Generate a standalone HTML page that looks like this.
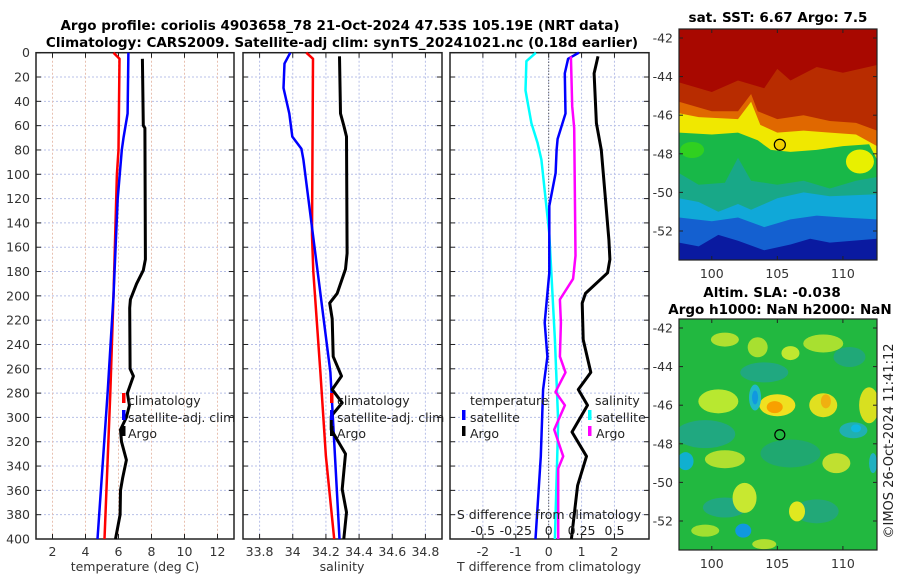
<!DOCTYPE html>
<html><head><meta charset="utf-8"><style>
body{margin:0;background:#fff;}
svg{display:block;font-family:"DejaVu Sans","Liberation Sans",sans-serif;}
</style></head><body>
<svg id="fig" width="900" height="580" viewBox="0 0 900 580"></svg>
<script>
// ---- data ----
const depthTicks=[0,20,40,60,80,100,120,140,160,180,200,220,240,260,280,300,320,340,360,380,400];
const tempTicks=[2,4,6,8,10,12];
const salTicks=[33.8,34,34.2,34.4,34.6,34.8];
const salTickLabels=["33.8","34","34.2","34.4","34.6","34.8"];
const tdiffTicks=[-2,-1,0,1,2];
const sdiffTicks=[-0.5,-0.25,0,0.25,0.5];
const sdiffTickLabels=["-0.5","-0.25","0","0.25","0.5"];
const latTicks=[-42,-44,-46,-48,-50,-52];
const lonTicks=[100,105,110];

const tClimDepth=[0,5,80,100,200,280,400];
const tClimVal=[5.7,6.06,6.0,5.9,5.7,5.5,5.15];
const tSatDepth=[0,50,70,80,120,200,280,400];
const tSatVal=[6.6,6.55,6.3,6.2,5.95,5.7,5.34,4.73];
const tArgoDepth=[5,60,62,170,179,190,203,210,260,266,280,290,300,310,320,335,350,360,380,400];
const tArgoVal=[7.45,7.5,7.6,7.63,7.5,7.1,6.72,6.68,6.7,6.9,6.54,6.66,6.48,6.12,6.18,6.48,6.25,6.12,6.1,5.82];

const sClimDepth=[0,5,150,180,263,332,400];
const sClimVal=[34.082,34.122,34.116,34.124,34.167,34.2,34.25];
const sSatDepth=[0,9,29,50,69,79,88,150,263,400];
const sSatVal=[33.985,33.95,33.944,33.979,33.997,34.052,34.064,34.122,34.227,34.282];
const sArgoDepth=[3,50,60,69,165,178,198,206,219,250,266,277,288,299,310,330,359,378,400];
const sArgoVal=[34.282,34.288,34.308,34.324,34.328,34.318,34.268,34.223,34.238,34.244,34.294,34.238,34.298,34.232,34.232,34.318,34.298,34.324,34.308];

const dsSatDepth=[0,7,31,58,74,88,148,236,304,400];
const dsSatVal=[-0.097,-0.169,-0.176,-0.131,-0.085,-0.055,0.004,0.047,0.072,0.047];
const dtSatDepth=[0,5,17,50,71,80,99,126,181,222,250,277,332,400];
const dtSatVal=[0.92,0.59,0.49,0.51,0.27,0.24,0.21,0.02,0.02,-0.12,-0.04,-0.17,-0.24,-0.4];
const dsArgoDepth=[3,44,62,167,186,203,222,250,263,279,290,310,332,342,400];
const dsArgoVal=[0.169,0.179,0.194,0.204,0.186,0.085,0.093,0.085,0.128,0.052,0.123,0.042,0.11,0.072,0.072];
const dtArgoDepth=[3,17,58,80,154,170,181,198,206,236,263,277,290,312,332,356,400];
const dtArgoVal=[1.5,1.38,1.45,1.6,1.83,1.86,1.79,1.12,1.02,1.05,1.28,0.9,1.18,0.71,1.15,0.88,0.69];

const argoLon=105.19, argoLat=-47.53;

// ---- helpers ----
const NS="http://www.w3.org/2000/svg";
const svg=document.getElementById('fig');
function el(tag,attrs,parent,text){const e=document.createElementNS(NS,tag);for(const k in attrs)e.setAttribute(k,attrs[k]);if(text!==undefined)e.textContent=text;(parent||svg).appendChild(e);return e;}
const PT=52.7, PB=539;
const yD=d=>PT+(d/400)*(PB-PT);
function lin(d0,d1,r0,r1){return v=>r0+(v-d0)/(d1-d0)*(r1-r0);}
const panels=[
 {name:'temperature-panel',x0:36,x1:234,dmin:1,dmax:13},
 {name:'salinity-panel',x0:243,x1:442,dmin:33.7,dmax:34.9},
 {name:'difference-panel',x0:450,x1:649,dmin:-3,dmax:3.05}
];
panels.forEach(p=>p.sx=lin(p.dmin,p.dmax,p.x0,p.x1));
const sdx=v=>panels[2].sx(v*4);

function frame(p,xticks,xlabels,gridColor){
  const g=el('g',{});
  
  
  depthTicks.forEach(d=>{const y=yD(d);
    if(d>0&&d<400)el('line',{x1:p.x0,x2:p.x1,y1:y,y2:y,stroke:'#b8c0e8','stroke-width':1,'stroke-dasharray':'2,2'},g);
    el('line',{x1:p.x0,x2:p.x0+5,y1:y,y2:y,stroke:'#222'},g);
    el('line',{x1:p.x1-5,x2:p.x1,y1:y,y2:y,stroke:'#222'},g);});
  xticks.forEach((v,i)=>{const x=p.sx(v);
    el('line',{x1:x,x2:x,y1:PT,y2:PB,stroke:gridColor||'#b8c0e8','stroke-width':1,'stroke-dasharray':'2,2'},g);
    el('line',{x1:x,x2:x,y1:PB-5,y2:PB,stroke:'#222'},g);
    el('line',{x1:x,x2:x,y1:PT,y2:PT+5,stroke:'#222'},g);
    if(xlabels){const t=el('text',{x:x,y:556,'font-size':12.5,'text-anchor':'middle',fill:'#333'},g,xlabels[i]);
      }
  });
  el('rect',{x:p.x0,y:PT,width:p.x1-p.x0,height:PB-PT,fill:'none',stroke:'#222','stroke-width':1.5},g);
  return g;
}
function line(xs,ds,vals,sx,color,w,name){
  const pts=vals.map((v,i)=>sx(v).toFixed(1)+','+yD(ds[i]).toFixed(1)).join(' ');
  const e=el('polyline',{points:pts,fill:'none',stroke:color,'stroke-width':w,'stroke-linejoin':'round'});
  
  
}
function txt(x,y,s,attrs,name){const a=Object.assign({x:x,y:y,'font-size':12.5,fill:'#222'},attrs||{});const t=el('text',a,svg,s);
  
  return t;}

// titles
txt(340,30,'Argo profile: coriolis 4903658_78 21-Oct-2024 47.53S 105.19E (NRT data)',{'font-size':13.5,'font-weight':'bold','text-anchor':'middle',fill:'#000'},'main-title-line1');
txt(342,47,'Climatology: CARS2009. Satellite-adj clim: synTS_20241021.nc (0.18d earlier)',{'font-size':13.5,'font-weight':'bold','text-anchor':'middle',fill:'#000'},'main-title-line2');

// panel 1
frame(panels[0],tempTicks,tempTicks.map(String),'#e8c0b0');
depthTicks.forEach(d=>{txt(30,yD(d)+4.5,String(d),{'text-anchor':'end',fill:'#333'},'y-tick-label');});
line(null,tClimDepth,tClimVal,panels[0].sx,'#ff0000',2.5,'temp-climatology-line');
line(null,tSatDepth,tSatVal,panels[0].sx,'#0000ff',2.5,'temp-satellite-line');
line(null,tArgoDepth,tArgoVal,panels[0].sx,'#000',3,'temp-argo-line');
txt(135,571,'temperature (deg C)',{'text-anchor':'middle',fill:'#333'},'x-axis-title-temperature');

// panel 2
frame(panels[1],salTicks,salTickLabels);
line(null,sClimDepth,sClimVal,panels[1].sx,'#ff0000',2.5,'sal-climatology-line');
line(null,sSatDepth,sSatVal,panels[1].sx,'#0000ff',2.5,'sal-satellite-line');
line(null,sArgoDepth,sArgoVal,panels[1].sx,'#000',3,'sal-argo-line');
txt(342,571,'salinity',{'text-anchor':'middle',fill:'#333'},'x-axis-title-salinity');

// legends panel 1/2
[[122,128],[330,337]].forEach(([mx,tx],k)=>{
  [['#ff0000','climatology',405],['#0000ff','satellite-adj. clim',422],['#000','Argo',438]].forEach(([c,s,y])=>{
    const m=el('rect',{x:mx,y:y-12,width:3.5,height:10,fill:c});
    
    txt(tx,y,s,{},'legend-entry');
  });
});

// panel 3
frame(panels[2],tdiffTicks,tdiffTicks.map(String));
el('line',{x1:panels[2].sx(0),x2:panels[2].sx(0),y1:PT,y2:PB,stroke:'#333','stroke-width':1,'stroke-dasharray':'1,2'});
line(null,dsSatDepth,dsSatVal,sdx,'#00ffff',2.5,'sdiff-satellite-line');
line(null,dtSatDepth,dtSatVal,panels[2].sx,'#0000ff',2.5,'tdiff-satellite-line');
line(null,dsArgoDepth,dsArgoVal,sdx,'#ff00ff',2.5,'sdiff-argo-line');
line(null,dtArgoDepth,dtArgoVal,panels[2].sx,'#000',3,'tdiff-argo-line');
txt(470,405,'temperature',{},'legend-title-temperature');
txt(595,405,'salinity',{},'legend-title-salinity');
[[462,'#0000ff','satellite',422],[462,'#000','Argo',438],[588,'#00ffff','satellite',422],[588,'#ff00ff','Argo',438]].forEach(([x,c,s,y])=>{
  const m=el('rect',{x:x,y:y-12,width:3.5,height:10,fill:c});
  
  txt(x+8,y,s,{},'legend-entry');
});
txt(549,519,'S difference from climatology',{'text-anchor':'middle'},'s-diff-axis-title');
sdiffTicks.forEach((v,i)=>txt(sdx(v),535,sdiffTickLabels[i],{'text-anchor':'middle'},'s-diff-tick-label'));
txt(549,571,'T difference from climatology',{'text-anchor':'middle',fill:'#333'},'x-axis-title-tdiff');

// ---- maps ----
function mapFrame(x0,x1,y0,y1,latY,name){
  const lx=lin(97.5,112.6,x0,x1);
  const g=el('g',{});
  
  
  const cid=name+'-clip';
  const cp=el('clipPath',{id:cid},g);el('rect',{x:x0,y:y0,width:x1-x0,height:y1-y0},cp);
  const inner=el('g',{'clip-path':'url(#'+cid+')'},g);
  return {g,inner,lx,ly:latY,x0,x1,y0,y1};
}
function poly(m,boundary,color){
  const pts=boundary.map(([lo,la])=>m.lx(lo).toFixed(1)+','+m.ly(la).toFixed(1));
  pts.push(m.x1+5+','+(m.y1+5));pts.push((m.x0-5)+','+(m.y1+5));
  el('polygon',{points:pts.join(' '),fill:color},m.inner);
}
function mapAxes(m){
  latTicks.forEach(la=>{const y=m.ly(la);
    el('line',{x1:m.x0,x2:m.x0+4,y1:y,y2:y,stroke:'#222'},m.g);
    el('line',{x1:m.x1-4,x2:m.x1,y1:y,y2:y,stroke:'#222'},m.g);
    txt(m.x0-6,y+4.5,String(la),{'text-anchor':'end',fill:'#333'},'lat-tick-label');});
  lonTicks.forEach(lo=>{const x=m.lx(lo);
    el('line',{x1:x,x2:x,y1:m.y1-4,y2:m.y1,stroke:'#222'},m.g);
    el('line',{x1:x,x2:x,y1:m.y0,y2:m.y0+4,stroke:'#222'},m.g);
    txt(x,m.y1+18,String(lo),{'text-anchor':'middle',fill:'#333'},'lon-tick-label');});
  el('rect',{x:m.x0,y:m.y0,width:m.x1-m.x0,height:m.y1-m.y0,fill:'none',stroke:'#222','stroke-width':1.2},m.g);
}
// SST map
const m1=mapFrame(679,877,29,260,lin(-42,-52,38,231),'sst-map');
el('rect',{x:679,y:29,width:198,height:231,fill:'#a80800'},m1.inner);
poly(m1,[[97.5,-44.3],[100,-44.8],[102,-44.2],[104,-44.6],[105,-43.6],[106,-44.2],[108,-43.5],[110,-43.8],[112.6,-43.4]],'#b82c00');
poly(m1,[[97.5,-45.3],[100,-45.8],[102,-45.8],[103,-44.9],[103.5,-45.8],[105,-46.2],[107,-46],[109,-46.3],[111,-46.4],[112.6,-46.8]],'#e06800');
poly(m1,[[97.5,-45.9],[99,-46.1],[102,-46.2],[103,-45.3],[103.7,-46.5],[105,-46.9],[107,-46.8],[109,-46.9],[111,-47],[112.6,-47.6]],'#f0e800');
poly(m1,[[97.5,-46.9],[100,-47.0],[102,-46.9],[103.5,-47.3],[104.5,-47.8],[106,-47.9],[108,-47.8],[110,-47.6],[112,-47.5],[112.6,-48.3]],'#18b848');
el('ellipse',{cx:m1.lx(111.3),cy:m1.ly(-48.4),rx:14,ry:12,fill:'#e8f000'},m1.inner);
el('ellipse',{cx:m1.lx(98.5),cy:m1.ly(-47.8),rx:12,ry:8,fill:'#30d020'},m1.inner);
poly(m1,[[97.5,-49],[99,-49.6],[101,-49.5],[102,-48.2],[103,-49.4],[105,-49.6],[107,-49.4],[109,-49.8],[111,-49.4],[112.6,-49.2]],'#18a888');
poly(m1,[[97.5,-50.3],[99,-50.5],[100.5,-51],[102,-50.6],[103,-50.9],[105,-50.3],[107,-50],[109,-50.2],[112.6,-50.1]],'#10a8d8');
poly(m1,[[97.5,-51.3],[100,-51.5],[102,-51.3],[104,-51.8],[106,-51.4],[108,-51.2],[110,-51.3],[112.6,-51.4]],'#1460d0');
poly(m1,[[97.5,-52.6],[99,-52.8],[100.5,-52.2],[102,-52.5],[104,-53],[106,-52.7],[107.5,-52.4],[109,-52.6],[112.6,-52.4]],'#0a1aa0');
mapAxes(m1);
const c1=el('circle',{cx:m1.lx(argoLon),cy:m1.ly(argoLat),r:5.5,fill:'#f0d000',stroke:'#000','stroke-width':1.2});

txt(778,22,'sat. SST: 6.67 Argo: 7.5',{'font-size':13.5,'font-weight':'bold','text-anchor':'middle',fill:'#000'},'sst-map-title');

// SLA map
const m2=mapFrame(679,877,319,550,lin(-42,-52,328,521),'sla-map');
el('rect',{x:679,y:319,width:198,height:231,fill:'#22b840'},m2.inner);
const blobs=[
 [99.5,-47.5,30,14,'#20a880'],[106,-48.5,30,14,'#1fa870'],[101,-51.3,22,10,'#20a880'],[108,-51.5,22,12,'#22a878'],
 [104,-44.3,24,10,'#20a880'],[110.5,-43.5,16,10,'#20a878'],
 [100.5,-45.8,20,12,'#b8e830'],[101,-42.6,14,7,'#b0e030'],[103.5,-43,10,10,'#a8e030'],[106,-43.3,9,7,'#c0e830'],
 [108.5,-42.8,20,9,'#a8e030'],[105,-46,18,11,'#f0e020'],[104.8,-46.1,8,6,'#f8a000'],[108.5,-46,14,12,'#e0e020'],
 [108.7,-45.8,5,7,'#f0b010'],[112,-46,10,18,'#d8e020'],[103.3,-45.6,6,13,'#20b8c8'],[103.3,-45.6,3,7,'#1098e0'],
 [110.8,-47.3,14,8,'#20b0b0'],[111,-47.2,5,4,'#10b8e0'],[98,-48.9,8,9,'#10b0d0'],[101,-48.8,20,9,'#b0e030'],
 [109.5,-49,14,10,'#c0e030'],[102.5,-50.8,12,15,'#c8e830'],[106.5,-51.5,8,10,'#e0e820'],[102.4,-52.5,8,7,'#1098e0'],
 [99.5,-52.5,14,6,'#a0e030'],[112.3,-49,4,10,'#20b0c0'],[104,-53.2,12,5,'#b0e030']
];
blobs.forEach(([lo,la,rx,ry,c])=>el('ellipse',{cx:m2.lx(lo),cy:m2.ly(la),rx:rx,ry:ry,fill:c},m2.inner));
mapAxes(m2);
const c2=el('circle',{cx:m2.lx(argoLon),cy:m2.ly(argoLat),r:5,fill:'none',stroke:'#000','stroke-width':1.2});

txt(772,297,'Altim. SLA: -0.038',{'font-size':13.5,'font-weight':'bold','text-anchor':'middle',fill:'#000'},'sla-map-title-line1');
txt(780,314,'Argo h1000: NaN h2000: NaN',{'font-size':13.5,'font-weight':'bold','text-anchor':'middle',fill:'#000'},'sla-map-title-line2');
txt(0,0,'©IMOS 26-Oct-2024 11:41:12',{'font-size':13,fill:'#222','text-anchor':'middle',transform:'translate(893,441) rotate(-90)'},'copyright-stamp');
</script>
</body></html>
